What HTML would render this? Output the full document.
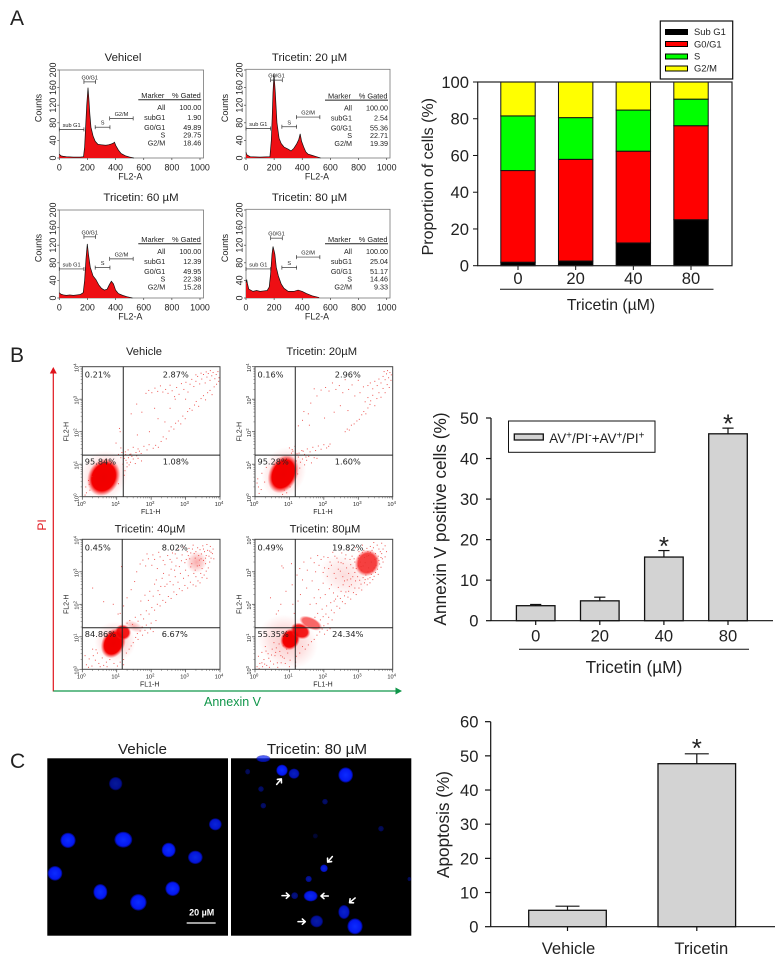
<!DOCTYPE html>
<html lang="en">
<head>
<meta charset="utf-8">
<title>Tricetin cell cycle and apoptosis figure</title>
<style>
html,body{margin:0;padding:0;background:#fff;}
#figure{display:block;filter:blur(0.3px);font-family:"Liberation Sans",Arial,sans-serif;fill:#222;}
</style>
</head>
<body>
<svg id="figure" xmlns="http://www.w3.org/2000/svg" width="784" height="963" viewBox="0 0 784 963">
<defs>
<radialGradient id="blobCore"><stop offset="0" stop-color="#f00000"/><stop offset="0.72" stop-color="#f40000"/><stop offset="1" stop-color="#ff3030" stop-opacity="0"/></radialGradient>
<radialGradient id="blobHalo"><stop offset="0" stop-color="#f02020" stop-opacity="0.85"/><stop offset="0.6" stop-color="#f03030" stop-opacity="0.45"/><stop offset="1" stop-color="#ff4040" stop-opacity="0"/></radialGradient>
<radialGradient id="cellGlow"><stop offset="0" stop-color="#0c2cff"/><stop offset="0.76" stop-color="#0418f0"/><stop offset="0.92" stop-color="#0208a0" stop-opacity="0.75"/><stop offset="1" stop-color="#000040" stop-opacity="0"/></radialGradient>
</defs>
<rect x="0" y="0" width="784" height="963" fill="#fff"/>
<text x="10" y="25" font-size="21">A</text>
<text x="10" y="362" font-size="21">B</text>
<text x="10" y="768" font-size="21">C</text>

<g id="histograms"></g>
<g id="stacked">
  <text transform="translate(433,176.7) rotate(-90)" text-anchor="middle" font-size="16">Proportion of cells (%)</text>
  <text x="611" y="310" text-anchor="middle" font-size="15.8">Tricetin (µM)</text>
  <line x1="500" x2="713.5" y1="289.3" y2="289.3" stroke="#111" stroke-width="1"/>
  <g>
    <rect x="660.3" y="21" width="72.4" height="58" fill="#fff" stroke="#111" stroke-width="1.2"/>
    <rect x="665.5" y="29.5" width="22" height="5" fill="#000" stroke="#000"/>
    <text x="694" y="35" font-size="9.4">Sub G1</text>
    <rect x="665.5" y="41.5" width="22" height="5" fill="#f00" stroke="#000"/>
    <text x="694" y="47.4" font-size="9.4">G0/G1</text>
    <rect x="665.5" y="54" width="22" height="5" fill="#0f0" stroke="#000"/>
    <text x="694" y="59.5" font-size="9.4">S</text>
    <rect x="665.5" y="66" width="22" height="5" fill="#ff0" stroke="#000"/>
    <text x="694" y="71.5" font-size="9.4">G2/M</text>
  </g>
</g>
<g id="dotplots">
  <line x1="53.3" x2="53.3" y1="691.5" y2="372" stroke="#e0141c" stroke-width="1.2"/>
  <polygon points="53.3,367 49.8,373.5 56.8,373.5" fill="#e0141c"/>
  <line x1="53.3" x2="398" y1="691" y2="691" stroke="#10964a" stroke-width="1.2"/>
  <polygon points="402,691 395.5,687.5 395.5,694.5" fill="#10964a"/>
  <text transform="translate(46,525) rotate(-90)" text-anchor="middle" font-size="12" fill="#e0141c">PI</text>
  <text x="232.5" y="706" text-anchor="middle" font-size="12.5" fill="#10964a">Annexin V</text>
</g>
<g id="annexinChart">
  <text transform="translate(445.8,519) rotate(-90)" text-anchor="middle" font-size="17.3">Annexin V positive cells (%)</text>
  <line x1="519" x2="749" y1="649.3" y2="649.3" stroke="#111" stroke-width="1"/>
  <text x="634" y="673" text-anchor="middle" font-size="17.3">Tricetin (µM)</text>
  <g>
    <rect x="508.5" y="421" width="146.5" height="31.3" fill="#fff" stroke="#111" stroke-width="1"/>
    <rect x="514.3" y="434" width="29" height="6" fill="#d3d3d3" stroke="#111" stroke-width="1.3"/>
    <text x="549.3" y="443" font-size="13.4">AV<tspan dy="-4.5" font-size="10">+</tspan><tspan dy="4.5">/PI</tspan><tspan dy="-4.5" font-size="10">-</tspan><tspan dy="4.5">+AV</tspan><tspan dy="-4.5" font-size="10">+</tspan><tspan dy="4.5">/PI</tspan><tspan dy="-4.5" font-size="10">+</tspan></text>
  </g>
</g>
<g>
  <text x="142.5" y="754" text-anchor="middle" font-size="15.2">Vehicle</text>
  <text x="317" y="754" text-anchor="middle" font-size="15.2">Tricetin: 80 µM</text>
  <rect x="47.3" y="758.3" width="180.7" height="177.4" fill="#000"/>
  <rect x="231" y="758.3" width="180.3" height="177.4" fill="#000"/>
  <g transform="translate(0,730) scale(0.33333)">
    <g fill="url(#cellGlow)">
      <ellipse cx="347" cy="161" rx="21" ry="21" opacity="0.6"/>
      <ellipse cx="204" cy="331" rx="24" ry="24"/>
      <ellipse cx="370" cy="329" rx="28" ry="25"/>
      <ellipse cx="506" cy="360" rx="22" ry="23"/>
      <ellipse cx="586" cy="382" rx="23" ry="21" opacity="0.9"/>
      <ellipse cx="646" cy="283" rx="20" ry="19" opacity="0.85"/>
      <ellipse cx="165" cy="430" rx="23" ry="23"/>
      <ellipse cx="301" cy="486" rx="22" ry="25"/>
      <ellipse cx="415" cy="517" rx="26" ry="26"/>
      <ellipse cx="518" cy="476" rx="23" ry="23"/>
    </g>
    <g fill="url(#cellGlow)">
      <ellipse cx="846" cy="121" rx="18" ry="18"/>
      <ellipse cx="882" cy="131" rx="17" ry="16" opacity="0.75"/>
      <ellipse cx="1037" cy="135" rx="23" ry="24"/>
      <ellipse cx="790" cy="86" rx="22" ry="11" opacity="0.7"/>
      <ellipse cx="743" cy="125" rx="8" ry="9" opacity="0.35"/>
      <ellipse cx="783" cy="177" rx="9" ry="9" opacity="0.4"/>
      <ellipse cx="790" cy="227" rx="9" ry="9" opacity="0.4"/>
      <ellipse cx="975" cy="215" rx="9" ry="9" opacity="0.4"/>
      <ellipse cx="1143" cy="296" rx="9" ry="9" opacity="0.35"/>
      <ellipse cx="946" cy="318" rx="8" ry="8" opacity="0.2"/>
      <ellipse cx="972" cy="415" rx="12" ry="12" opacity="0.85"/>
      <ellipse cx="926" cy="447" rx="10" ry="10" opacity="0.6"/>
      <ellipse cx="884" cy="497" rx="11" ry="11" opacity="0.5"/>
      <ellipse cx="932" cy="498" rx="22" ry="17" opacity="0.95"/>
      <ellipse cx="1032" cy="546" rx="18" ry="22" opacity="0.8"/>
      <ellipse cx="1065" cy="589" rx="24" ry="25"/>
      <ellipse cx="950" cy="574" rx="20" ry="19" opacity="0.65"/>
      <ellipse cx="1228" cy="447" rx="6" ry="7" opacity="0.35"/>
    </g>
    <g fill="none" stroke="#fff" stroke-width="4.6" stroke-linecap="round" stroke-linejoin="round">
      <path transform="translate(837,155) rotate(-50)" d="M-11,0H10M2,-8L11,0L2,8"/>
      <path transform="translate(990,388) rotate(130)" d="M-11,0H10M2,-8L11,0L2,8"/>
      <path transform="translate(857,497)" d="M-11,0H10M2,-8L11,0L2,8"/>
      <path transform="translate(974,498) rotate(180)" d="M-11,0H10M2,-8L11,0L2,8"/>
      <path transform="translate(1057,511) rotate(140)" d="M-11,0H10M2,-8L11,0L2,8"/>
      <path transform="translate(905,575)" d="M-11,0H10M2,-8L11,0L2,8"/>
    </g>
    <line x1="560" x2="647" y1="579" y2="579" stroke="#fff" stroke-width="4"/>
    <text x="605" y="556" text-anchor="middle" font-size="27" font-weight="bold" fill="#fff">20 µM</text>
  </g>
</g>
<g id="apoptosisChart">
  <text transform="translate(449,824.5) rotate(-90)" text-anchor="middle" font-size="17.2">Apoptosis (%)</text>
</g>
</svg>
<script>
/* ---------- Panel A stacked chart data ---------- */
const stackDoses = ['0', '20', '40', '80'];
const stackTicks = [0, 20, 40, 60, 80, 100];
const subG1Values = [1.90, 2.54, 12.39, 25.04];
const g0g1Values = [49.89, 55.36, 49.95, 51.17];
const sPhaseValues = [29.75, 22.71, 22.38, 14.46];
const g2mValues = [18.46, 19.39, 15.28, 9.33];

/* ---------- Panel A histogram data ---------- */
const histTitles = ['Vehicel', 'Tricetin: 20 µM', 'Tricetin: 60 µM', 'Tricetin: 80 µM'];
const histXTicks = [0, 200, 400, 600, 800, 1000];
const histYTicks = [0, 40, 80, 120, 160, 200];
const hist1Channels = [0, 5, 12, 25, 50, 100, 150, 172, 180, 187, 195, 204, 210, 217, 225, 240, 255, 275, 300, 330, 350, 370, 385, 392, 402, 420, 440, 470, 500, 530];
const hist1Counts = [9, 7, 5, 4, 3, 2, 2, 3, 25, 70, 120, 160, 135, 100, 70, 50, 38, 31, 30, 29, 30, 32, 34, 36, 28, 18, 10, 5, 2, 0];
const hist2Channels = [0, 5, 12, 30, 100, 170, 180, 186, 192, 199, 208, 220, 235, 250, 270, 300, 320, 340, 360, 375, 385, 395, 410, 425, 440, 470, 500, 530];
const hist2Counts = [13, 8, 6, 3, 2, 3, 40, 90, 150, 190, 150, 80, 45, 33, 25, 20, 16, 22, 32, 42, 55, 38, 25, 14, 9, 6, 3, 0];
const hist3Channels = [0, 10, 30, 50, 75, 100, 125, 150, 170, 180, 190, 199, 207, 220, 240, 260, 280, 300, 320, 340, 355, 370, 385, 400, 420, 450, 480, 520];
const hist3Counts = [12, 9, 7, 6, 7, 6, 7, 8, 12, 40, 90, 123, 100, 70, 50, 42, 30, 22, 18, 20, 30, 38, 32, 18, 10, 6, 3, 0];
const hist4Channels = [0, 5, 10, 20, 50, 75, 100, 125, 150, 165, 175, 185, 192, 205, 215, 230, 250, 270, 300, 340, 370, 400, 430, 470, 520];
const hist4Counts = [35, 42, 33, 20, 15, 17, 15, 16, 17, 25, 55, 100, 117, 100, 70, 50, 32, 22, 15, 15, 18, 15, 10, 5, 1];
const histChannels = [hist1Channels, hist2Channels, hist3Channels, hist4Channels];
const histCounts = [hist1Counts, hist2Counts, hist3Counts, hist4Counts];
const gateNames = ['sub G1', 'G0/G1', 'S', 'G2/M'];
const gateStarts = [0, 175, 255, 358];
const gateEnds = [175, 258, 360, 525];
const gateHeightsByHist = [[65, 173, 70, 90], [67, 177, 71, 93], [66, 139, 69, 89], [66, 136, 69, 93]];
const tableLabels = ['All', 'subG1', 'G0/G1', 'S', 'G2/M'];
const gatedPercents1 = ['100.00', '1.90', '49.89', '29.75', '18.46'];
const gatedPercents2 = ['100.00', '2.54', '55.36', '22.71', '19.39'];
const gatedPercents3 = ['100.00', '12.39', '49.95', '22.38', '15.28'];
const gatedPercents4 = ['100.00', '25.04', '51.17', '14.46', '9.33'];
const gatedPercents = [gatedPercents1, gatedPercents2, gatedPercents3, gatedPercents4];

/* ---------- Panel B dot plot data (log10 FL1-H, log10 FL2-H) ---------- */
const dotTitles = ['Vehicle', 'Tricetin: 20µM', 'Tricetin: 40µM', 'Tricetin: 80µM'];
const logTicks = [0, 1, 2, 3, 4];
const quadrantGates = [[1.19, 1.28], [1.17, 1.28], [1.16, 1.28], [1.17, 1.28]];
const quadrantPercents = [['0.21%', '2.87%', '95.84%', '1.08%'], ['0.16%', '2.96%', '95.28%', '1.60%'], ['0.45%', '8.02%', '84.86%', '6.67%'], ['0.49%', '19.82%', '55.35%', '24.34%']];
/* dense populations: log x, log y, spread x, spread y, density */
const denseVehicle = [[0.64, 0.66, 0.68, 0.78, 0.3], [0.62, 0.6, 0.46, 0.6, 1]];
const denseT20 = [[0.84, 0.74, 0.62, 0.82, 0.3], [0.82, 0.7, 0.42, 0.62, 1]];
const denseT40 = [[0.95, 0.85, 0.6, 0.62, 0.3], [0.9, 0.8, 0.34, 0.48, 1], [1.18, 1.14, 0.24, 0.24, 0.9], [1.5, 1.32, 0.3, 0.16, 0.4], [3.32, 3.3, 0.3, 0.34, 0.45]];
const denseT80 = [[0.95, 0.85, 0.9, 0.8, 0.3], [1.02, 0.92, 0.28, 0.34, 1], [1.32, 1.18, 0.3, 0.24, 0.9], [1.62, 1.42, 0.36, 0.18, 0.6], [3.26, 3.27, 0.36, 0.42, 0.75], [2.6, 2.9, 0.75, 0.6, 0.18]];
const dotsVehicle = [[1.25,1.38],[1.33,1.44],[1.41,1.31],[1.48,1.52],[1.56,1.36],[1.62,1.47],[1.71,1.33],[1.79,1.55],[1.88,1.44],[1.94,1.6],[2.06,1.49],[2.13,1.58],[2.21,1.52],[2.29,1.7],[2.35,1.84],[2.44,1.78],[2.52,2.02],[2.58,2.15],[2.66,2.08],[2.71,2.26],[2.79,2.33],[2.86,2.24],[2.92,2.48],[2.99,2.4],[3.06,2.62],[3.12,2.71],[3.19,2.66],[3.26,2.82],[3.31,2.93],[3.38,2.78],[3.45,3.02],[3.52,3.11],[3.58,2.98],[3.64,3.2],[3.71,3.27],[3.77,3.14],[3.83,3.38],[3.9,3.46],[3.96,3.55],[1.85,3.18],[1.93,3.27],[2.02,3.2],[2.11,3.34],[2.19,3.24],[2.27,3.41],[2.34,3.22],[2.42,3.3],[2.49,3.18],[2.55,3.43],[2.61,3.26],[2.68,3.08],[2.74,3.36],[2.81,3.15],[2.88,3.48],[2.95,3.3],[3.01,3.52],[3.07,3.22],[3.13,3.46],[3.18,3.61],[3.24,3.39],[3.3,3.55],[3.35,3.7],[3.41,3.47],[3.47,3.62],[3.52,3.76],[3.57,3.5],[3.62,3.68],[3.66,3.79],[3.71,3.58],[3.76,3.72],[3.8,3.82],[3.85,3.63],[3.89,3.76],[3.94,3.85],[3.97,3.66],[3.45,3.8],[3.6,3.84],[3.72,3.88],[3.3,3.75],[1.42,2.55],[1.58,2.85],[1.73,2.6],[2.1,2.72],[2.2,2.4],[2.4,2.3],[2.55,2.72],[1.1,2.0],[1.08,2.1],[0.98,1.65],[1.12,1.5],[2.7,3.0],[3.0,3.0],[1.6,1.9],[1.95,2.0],[1.2,1.25],[1.27,1.12],[1.34,1.2],[1.4,1.06],[1.3,0.92],[1.48,1.16],[1.24,0.8],[1.54,1.02],[1.18,1.0],[1.22,1.18],[1.12,1.2],[1.05,1.3],[1.15,1.36],[1.38,1.3],[1.62,1.18],[1.72,1.1],[1.05,0.4],[0.1,0.3],[0.08,0.05],[0.18,0.5],[0.22,0.2],[0.12,0.12],[0.28,0.62],[0.2,0.38],[1.3,1.04],[1.36,0.98],[1.44,1.24],[1.26,1.3],[1.58,1.26],[1.66,1.4],[1.22,0.66]];
const dotsT20 = [[1.28,1.34],[1.36,1.42],[1.44,1.3],[1.52,1.47],[1.6,1.38],[1.68,1.52],[1.76,1.42],[1.84,1.56],[1.92,1.46],[2.0,1.6],[2.08,1.5],[2.14,1.55],[2.18,1.62],[2.62,2.0],[2.68,2.08],[2.74,2.05],[2.8,2.2],[2.88,2.24],[2.96,2.33],[3.03,2.38],[3.1,2.52],[3.16,2.62],[3.22,2.55],[3.28,2.73],[3.34,2.84],[3.2,2.92],[3.28,3.05],[3.36,2.95],[3.42,3.12],[3.48,2.8],[3.54,3.02],[3.6,3.2],[3.66,3.06],[3.72,3.33],[3.78,3.2],[3.84,3.45],[3.9,3.36],[3.95,3.58],[3.28,3.42],[3.35,3.5],[3.42,3.32],[3.48,3.55],[3.55,3.42],[3.6,3.62],[3.66,3.5],[3.72,3.7],[3.78,3.6],[3.82,3.78],[3.88,3.66],[3.92,3.82],[3.75,3.85],[3.85,3.88],[3.96,3.75],[3.15,3.38],[3.05,3.2],[3.0,3.58],[2.9,3.1],[2.82,3.44],[2.72,3.3],[2.62,3.6],[2.55,3.2],[2.45,3.42],[2.35,3.3],[2.25,3.5],[2.15,3.25],[2.05,3.36],[1.92,3.28],[1.8,3.1],[1.72,3.32],[1.62,2.88],[1.55,2.55],[1.42,2.62],[1.38,2.35],[1.26,2.18],[1.58,2.2],[2.02,2.42],[2.3,2.6],[2.48,2.8],[2.7,2.65],[1.2,1.1],[1.26,1.22],[1.32,1.06],[1.38,1.16],[1.44,0.98],[1.3,0.88],[1.24,0.7],[1.5,1.12],[1.56,1.24],[1.64,1.04],[1.72,1.2],[1.8,1.18],[1.22,1.32],[1.08,1.45],[1.0,1.5],[1.16,1.55],[1.1,1.4],[1.02,0.3],[0.92,0.12],[0.85,0.2],[0.8,0.07],[0.1,0.3],[0.08,0.55],[0.12,0.1],[0.18,0.22],[0.2,0.72],[0.28,0.45],[0.33,0.9],[0.06,0.42],[1.06,1.34],[1.4,1.4],[1.48,1.22]];
const dotsT40 = [[1.3,1.42],[1.38,1.5],[1.46,1.38],[1.54,1.6],[1.62,1.48],[1.7,1.68],[1.78,1.55],[1.86,1.8],[1.94,1.7],[2.02,1.9],[2.1,1.82],[2.18,2.0],[2.26,1.95],[2.34,2.12],[2.42,2.06],[2.5,2.24],[2.58,2.18],[2.66,2.38],[2.74,2.3],[2.82,2.48],[2.9,2.42],[2.98,2.58],[3.06,2.5],[3.14,2.68],[3.22,2.6],[3.3,2.56],[3.36,2.72],[3.42,2.66],[3.48,2.82],[3.54,2.9],[3.6,3.02],[3.66,3.12],[3.7,3.3],[3.74,3.42],[3.78,3.56],[3.8,3.7],[3.72,3.78],[3.62,3.84],[3.5,3.8],[3.42,3.68],[3.35,3.74],[3.25,3.56],[3.2,3.7],[3.12,3.4],[3.05,3.62],[2.98,3.28],[2.9,3.52],[2.82,3.16],[2.75,3.42],[2.68,3.05],[2.6,3.3],[2.52,2.9],[2.48,3.5],[2.4,3.22],[2.32,2.8],[2.26,3.46],[2.18,3.1],[2.1,3.38],[2.02,3.2],[1.92,3.4],[1.84,3.18],[1.76,3.36],[1.68,3.24],[1.58,3.0],[1.52,2.7],[1.42,2.45],[1.3,2.2],[1.2,1.95],[1.1,1.72],[1.14,3.16],[0.3,2.5],[0.62,2.08],[0.9,2.0],[1.04,1.7],[1.96,2.4],[2.1,2.62],[2.25,2.3],[2.4,2.55],[2.55,2.7],[2.7,2.85],[2.85,2.95],[3.0,3.05],[3.15,3.15],[3.28,3.05],[3.4,3.2],[3.52,3.35],[2.62,3.58],[2.8,3.68],[2.95,3.76],[3.08,3.5],[1.6,1.1],[1.68,1.18],[1.75,1.05],[1.82,1.2],[1.9,1.12],[1.98,1.24],[2.06,1.16],[1.55,0.98],[1.62,0.92],[1.48,0.82],[1.42,0.72],[1.36,0.62],[1.28,0.5],[0.92,0.18],[0.8,0.3],[0.7,0.22],[0.58,0.35],[0.48,0.18],[0.38,0.28],[0.28,0.1],[0.2,0.32],[0.12,0.14],[0.08,0.42],[0.18,0.06],[0.32,0.42],[0.44,0.5],[0.52,0.08],[0.62,0.12],[0.72,0.08],[1.02,0.1],[1.1,0.22],[1.2,0.3],[1.2,0.14],[0.4,0.6],[0.3,0.62],[3.82,3.4],[3.7,3.64],[3.6,3.5],[3.55,3.62],[3.45,3.4],[3.38,3.5],[3.28,3.42],[3.15,3.58],[3.58,3.25],[3.48,3.1],[3.62,2.8],[3.44,2.95],[3.3,2.85],[2.15,2.75],[2.28,2.55],[2.36,2.95],[2.46,2.62],[2.58,3.08],[2.64,2.6],[2.72,3.18],[2.78,2.68],[2.88,3.34],[2.94,2.8],[3.02,3.38],[3.08,2.88],[3.18,3.25],[3.24,2.95],[3.34,3.18],[3.4,3.36],[3.46,3.55],[3.52,3.7],[3.58,3.42],[3.64,3.66],[3.68,3.48],[3.74,3.6],[3.3,3.62],[3.22,3.82],[3.1,3.72],[2.7,3.55],[2.55,3.38],[2.35,3.35],[2.22,3.6],[2.05,3.52],[1.88,3.55],[1.7,2.1],[1.82,2.28],[1.92,2.12],[2.06,2.25],[2.2,2.42],[1.74,1.3],[1.86,1.36],[2.0,1.42],[2.14,1.5]];
const dotsT80 = [[1.9,1.52],[1.98,1.62],[2.06,1.7],[2.14,1.6],[2.22,1.82],[2.3,1.74],[2.38,1.94],[2.46,1.88],[2.54,2.08],[2.62,2.02],[2.7,2.22],[2.78,2.16],[2.86,2.36],[2.94,2.3],[3.02,2.5],[3.1,2.44],[3.18,2.66],[3.26,2.6],[3.34,2.82],[3.42,2.76],[3.5,2.98],[3.58,2.92],[3.66,3.14],[3.72,3.3],[3.78,3.46],[3.82,3.62],[3.78,3.8],[3.68,3.88],[3.55,3.82],[3.45,3.9],[3.35,3.78],[3.25,3.72],[3.12,3.82],[3.02,3.62],[2.92,3.74],[2.82,3.48],[2.72,3.66],[2.62,3.4],[2.52,3.58],[2.42,3.3],[2.32,3.48],[2.22,3.2],[2.12,3.44],[2.02,3.12],[1.92,3.38],[1.82,3.5],[1.72,3.28],[1.62,3.42],[1.52,3.05],[1.42,3.3],[1.3,3.1],[1.22,2.9],[1.38,2.75],[1.5,2.5],[1.32,2.3],[1.25,2.1],[0.82,3.12],[0.78,3.18],[1.06,3.25],[0.75,2.0],[0.68,1.8],[0.62,1.7],[0.45,2.2],[0.9,2.4],[1.08,2.6],[1.1,2.0],[1.14,1.72],[1.6,2.0],[1.72,2.2],[1.85,2.45],[1.98,2.65],[2.1,2.86],[2.22,2.6],[2.35,2.8],[2.48,3.02],[2.6,2.72],[2.72,2.95],[2.85,3.12],[2.98,2.85],[3.1,3.05],[3.22,2.9],[3.3,3.12],[3.42,3.02],[3.52,3.2],[3.6,3.35],[3.68,3.56],[3.72,3.7],[3.6,3.7],[3.5,3.56],[3.4,3.66],[3.3,3.5],[3.18,3.44],[3.06,3.3],[2.94,3.1],[2.84,2.85],[2.74,2.55],[2.64,2.38],[2.5,2.4],[2.4,2.25],[2.3,2.1],[2.2,2.05],[2.08,1.95],[1.95,1.85],[1.82,1.72],[1.74,1.6],[1.8,1.05],[1.88,1.15],[1.95,1.24],[2.02,1.08],[2.1,1.2],[2.18,1.25],[1.72,0.92],[1.64,0.85],[1.55,0.75],[1.46,0.62],[1.38,0.7],[1.3,0.5],[1.2,0.4],[1.18,0.22],[1.18,0.1],[1.02,0.28],[0.95,0.5],[0.88,0.18],[0.8,0.38],[0.72,0.55],[0.65,0.2],[0.58,0.42],[0.5,0.62],[0.45,0.25],[0.38,0.48],[0.3,0.7],[0.26,0.3],[0.2,0.52],[0.14,0.18],[0.1,0.4],[0.06,0.08],[0.12,0.02],[0.22,0.08],[0.34,0.12],[0.42,0.06],[0.54,0.16],[0.66,0.06],[0.76,0.2],[0.85,0.34],[0.92,0.62],[0.82,0.72],[0.7,0.78],[0.62,0.66],[0.55,0.82],[0.48,0.44],[0.4,0.34],[0.32,0.56],[1.0,0.08],[0.6,0.52],[0.75,0.42],[0.2,0.2],[0.28,0.16],[3.0,3.42],[2.9,3.3],[2.78,3.22],[2.66,3.12],[2.56,3.25],[3.12,3.6],[3.25,3.48],[3.38,3.3],[3.48,3.38],[3.58,3.48],[3.64,3.62],[3.44,3.74],[3.35,3.6],[3.2,3.28],[3.08,3.16],[2.9,2.98],[2.78,2.78],[2.55,2.85],[2.42,3.08],[2.3,2.95],[2.18,3.3],[1.98,2.98],[2.04,2.3],[2.16,2.48],[2.28,2.35],[2.42,2.52],[2.56,2.6],[2.68,2.75],[2.8,2.6],[2.92,2.72],[3.04,2.74],[3.14,2.82],[3.28,2.78],[3.38,2.92],[3.46,3.12],[3.56,3.08],[3.62,3.24],[3.28,3.0],[3.14,3.18],[3.0,3.18],[2.88,3.4],[2.76,3.38],[2.64,3.52],[2.5,3.28],[2.38,3.42],[2.26,3.6],[2.14,3.1],[2.0,3.46],[1.86,3.2],[1.76,3.0],[1.66,2.72],[1.9,2.2],[1.78,2.02],[2.34,2.16],[2.48,2.18],[2.6,2.26],[2.72,2.4],[2.9,2.5],[3.08,2.62],[3.2,2.76],[3.34,2.66],[3.46,2.86],[3.54,3.42],[3.66,3.44],[3.7,3.4],[3.16,3.66],[3.04,3.5],[3.28,3.62],[1.86,1.3],[2.0,1.34],[2.12,1.4],[2.24,1.52]];
const denseSets = [denseVehicle, denseT20, denseT40, denseT80];
const dotSets = [dotsVehicle, dotsT20, dotsT40, dotsT80];

/* ---------- Panel B bar chart data ---------- */
const annexinDoses = ['0', '20', '40', '80'];
const annexinMeans = [3.7, 4.9, 15.7, 46.1];
const annexinErrors = [0.3, 0.9, 1.6, 1.4];
const annexinStars = [false, false, true, true];
const annexinTicks = [0, 10, 20, 30, 40, 50];

/* ---------- Panel C bar chart data ---------- */
const apoptosisGroups = ['Vehicle', 'Tricetin'];
const apoptosisMeans = [4.8, 47.7];
const apoptosisErrors = [1.2, 2.9];
const apoptosisStars = [false, true];
const apoptosisTicks = [0, 10, 20, 30, 40, 50, 60];

const SVGNS = 'http://www.w3.org/2000/svg';
function make(tag, attrs, parent) {
  const el = document.createElementNS(SVGNS, tag);
  for (const k in attrs) el.setAttribute(k, attrs[k]);
  parent.appendChild(el);
  return el;
}
function addLine(parent, name, x1, y1, x2, y2, color, width) {
  const el = make('line', {x1: x1, y1: y1, x2: x2, y2: y2, stroke: color, 'stroke-width': width}, parent);
  
  
  return el;
}
function addText(parent, name, str, x, y, size, anchor, rotate, fill) {
  const attrs = {'font-size': size, 'text-anchor': anchor || 'middle'};
  if (rotate) { attrs.transform = 'translate(' + x + ',' + y + ') rotate(-90)'; }
  else { attrs.x = x; attrs.y = y; }
  if (fill) attrs.fill = fill;
  const el = make('text', attrs, parent);
  el.textContent = str;
  
  
  return el;
}
function addGroup(parent, name) {
  const el = make('g', {}, parent);
  
  
  return el;
}

/* ---------- Histograms ---------- */
const histFrames = [
  {left: 59.3, bottom: 158, top: 70, right: 203.5, titleX: 123, tableShift: 0},
  {left: 246, bottom: 158, top: 69.3, right: 390, titleX: 309.5, tableShift: 0.3},
  {left: 59.3, bottom: 298, top: 210, right: 203.5, titleX: 141, tableShift: 4},
  {left: 246, bottom: 298, top: 209.3, right: 390, titleX: 309.5, tableShift: 4}
];
const histHost = document.getElementById('histograms');
histFrames.forEach(function (f, p) {
  const g = addGroup(histHost, 'histogram-' + (p + 1));
  const xS = function (c) { return f.left + c * 0.1407; };
  const yS = function (v) { return f.bottom - v * 0.44; };
  addText(g, 'histogram-title', histTitles[p], f.titleX, f.bottom - 97, 11.4);
  const frame = make('rect', {x: f.left, y: f.top, width: f.right - f.left, height: f.bottom - f.top, fill: 'none', stroke: '#777', 'stroke-width': 0.8}, g);
  
  
  const ch = histChannels[p], ct = histCounts[p];
  let d = 'M' + xS(ch[0]) + ',' + yS(0);
  let top = '';
  for (let i = 0; i < ch.length; i++) {
    d += 'L' + xS(ch[i]) + ',' + yS(ct[i]);
    top += (i ? 'L' : 'M') + xS(ch[i]) + ',' + yS(ct[i]);
  }
  d += 'L' + xS(ch[ch.length - 1]) + ',' + yS(0) + 'Z';
  const area = make('path', {d: d, fill: '#ee0f14'}, g);
  
  
  const outline = make('path', {d: top, fill: 'none', stroke: '#111', 'stroke-width': 0.7}, g);
  
  
  histXTicks.forEach(function (t) {
    addLine(g, 'x-tick', xS(t), f.bottom, xS(t), f.bottom + 2, '#444', 0.7);
    addText(g, 'x-tick-label', String(t), xS(t), f.bottom + 12.6, 8.9);
  });
  histYTicks.forEach(function (t) {
    addLine(g, 'y-tick', f.left - 2, yS(t), f.left, yS(t), '#444', 0.7);
    addText(g, 'y-tick-label', String(t), f.left - 3.3, yS(t), 8.9, 'middle', true);
  });
  addText(g, 'x-axis-title', 'FL2-A', f.left + 71, f.bottom + 21.3, 8.9);
  addText(g, 'y-axis-title', 'Counts', f.left - 18, f.bottom - 50, 8.9, 'middle', true);
  gateNames.forEach(function (name, k) {
    const gy = yS(gateHeightsByHist[p][k]);
    const gx1 = xS(gateStarts[k]), gx2 = xS(gateEnds[k]);
    addLine(g, 'gate-line', gx1, gy, gx2, gy, '#333', 0.7);
    addLine(g, 'gate-cap', gx1, gy - 2, gx1, gy + 2, '#333', 0.7);
    addLine(g, 'gate-cap', gx2, gy - 2, gx2, gy + 2, '#333', 0.7);
    addText(g, 'gate-label', name, (gx1 + gx2) / 2, gy - 2.5, 5.6);
  });
  const rowOffsets = [-48, -38, -28, -20.5, -12.3];
  const tableLeft = f.left + 79, s = f.tableShift;
  addText(g, 'table-header-marker', 'Marker', f.left + 105, f.bottom - 60 + s, 7.4, 'end');
  addText(g, 'table-header-gated', '% Gated', f.left + 141.5, f.bottom - 60 + s, 7.4, 'end');
  addLine(g, 'table-header-rule', tableLeft, f.bottom - 58.2 + s, f.left + 142, f.bottom - 58.2 + s, '#222', 1);
  tableLabels.forEach(function (lab, r) {
    addText(g, 'table-row-label', lab, f.left + 106, f.bottom + rowOffsets[r] + s, 7.2, 'end');
    addText(g, 'table-row-value', gatedPercents[p][r], f.left + 142, f.bottom + rowOffsets[r] + s, 7.2, 'end');
  });
});

/* ---------- Stacked chart ---------- */
const stackHost = document.getElementById('stacked');
const stackX = function (i) { return 518 + i * 57.67; };
const stackY = function (v) { return 265.7 - v * 1.837; };
const stackSeries = [subG1Values, g0g1Values, sPhaseValues, g2mValues];
const stackColors = ['#000000', '#ff0000', '#00ff00', '#ffff00'];
const stackNames = ['sub-g1', 'g0-g1', 's-phase', 'g2-m'];
stackDoses.forEach(function (dose, i) {
  let base = 0;
  stackSeries.forEach(function (vals, k) {
    const next = Math.min(100, base + vals[i]);
    const seg = make('rect', {x: stackX(i) - 17.2, y: stackY(next), width: 34.4, height: stackY(base) - stackY(next), fill: stackColors[k], stroke: '#111', 'stroke-width': 1}, stackHost);
    
    
    base = next;
  });
  addLine(stackHost, 'x-tick', stackX(i), 265.7, stackX(i), 270, '#111', 1);
  addText(stackHost, 'x-tick-label', dose, stackX(i), 284, 16.6);
});
const stackFrame = make('rect', {x: 477.7, y: 82, width: 254.3, height: 183.7, fill: 'none', stroke: '#222', 'stroke-width': 1.2}, stackHost);


stackTicks.forEach(function (t) {
  addLine(stackHost, 'y-tick', 473, stackY(t), 477.7, stackY(t), '#111', 1);
  addText(stackHost, 'y-tick-label', String(t), 469, stackY(t) + 6, 16.6, 'end');
});

/* ---------- Dot plots ---------- */
const dotFrames = [
  {left: 82.3, right: 220, top: 366.7, bottom: 496.7, titleX: 144, titleY: 355, fl1X: 150.7, fl1Y: 514, fl2X: 68.7},
  {left: 255, right: 392.7, top: 366.7, bottom: 496.7, titleX: 321.7, titleY: 355, fl1X: 323, fl1Y: 514, fl2X: 241.5},
  {left: 82.3, right: 220, top: 539.3, bottom: 669.3, titleX: 150, titleY: 532.7, fl1X: 149.7, fl1Y: 686.7, fl2X: 68.7},
  {left: 255, right: 392.7, top: 539.3, bottom: 669.3, titleX: 325, titleY: 532.7, fl1X: 323, fl1Y: 686.7, fl2X: 241.5}
];
const dotHost = document.getElementById('dotplots');
dotFrames.forEach(function (f, p) {
  const g = addGroup(dotHost, 'dot-plot-' + (p + 1));
  const xS = function (l) { return f.left + l * (f.right - f.left) / 4; };
  const yS = function (l) { return f.bottom - l * (f.bottom - f.top) / 4; };
  addText(g, 'dot-plot-title', dotTitles[p], f.titleX, f.titleY, 11.2);
  denseSets[p].forEach(function (b) {
    const blob = make('ellipse', {
      cx: xS(b[0]), cy: yS(b[1]),
      rx: b[2] * (f.right - f.left) / 4, ry: b[3] * (f.bottom - f.top) / 4,
      fill: b[4] < 0.5 ? 'url(#blobHalo)' : 'url(#blobCore)', opacity: b[4],
      transform: 'rotate(25 ' + xS(b[0]) + ' ' + yS(b[1]) + ')'
    }, g);
    
    
  });
  dotSets[p].forEach(function (pt) {
    const dot = make('rect', {x: xS(pt[0]) - 0.5, y: yS(pt[1]) - 0.5, width: 1, height: 1, fill: '#e8302c', opacity: 0.8}, g);
    
    
  });
  const box = make('rect', {x: f.left, y: f.top, width: f.right - f.left, height: f.bottom - f.top, fill: 'none', stroke: '#444', 'stroke-width': 1}, g);
  
  
  const qx = xS(quadrantGates[p][0]), qy = yS(quadrantGates[p][1]);
  addLine(g, 'quadrant-vertical', qx, f.top, qx, f.bottom, '#222', 1);
  addLine(g, 'quadrant-horizontal', f.left, qy, f.right, qy, '#222', 1);
  logTicks.forEach(function (t, idx) {
    addLine(g, 'x-tick', xS(t), f.bottom, xS(t), f.bottom + 3, '#444', 0.7);
    addLine(g, 'y-tick', f.left - 3, yS(t), f.left, yS(t), '#444', 0.7);
    const xl = addText(g, 'x-tick-label', '10', xS(t) - 1, f.bottom + 9.3, 5.6);
    const xe = make('tspan', {dy: -2, 'font-size': 4.2}, xl);
    xe.textContent = String(t);
    const yl = addText(g, 'y-tick-label', '10', f.left - 4, yS(t) + 1, 5.6, 'middle', true);
    const ye = make('tspan', {dy: -2, 'font-size': 4.2}, yl);
    ye.textContent = String(t);
    if (idx < 4) {
      for (let m = 2; m < 10; m++) {
        addLine(g, 'minor-x-tick', xS(t + Math.log10(m)), f.bottom, xS(t + Math.log10(m)), f.bottom + 1.6, '#555', 0.5);
        addLine(g, 'minor-y-tick', f.left - 1.6, yS(t + Math.log10(m)), f.left, yS(t + Math.log10(m)), '#555', 0.5);
      }
    }
  });
  addText(g, 'fl1-axis-title', 'FL1-H', f.fl1X, f.fl1Y, 7);
  addText(g, 'fl2-axis-title', 'FL2-H', f.fl2X, (f.top + f.bottom) / 2 + 0, 7, 'middle', true);
  const pc = quadrantPercents[p];
  const labelFont = '"DejaVu Sans","Liberation Sans",sans-serif';
  const a = addText(g, 'quadrant-upper-left-percent', pc[0], f.left + 2.5, f.top + 11, 8.2, 'start');
  a.setAttribute('font-family', labelFont);
  const b = addText(g, 'quadrant-upper-right-percent', pc[1], qx + 52.5, f.top + 11, 8.2, 'middle');
  b.setAttribute('font-family', labelFont);
  const c = addText(g, 'quadrant-lower-left-percent', pc[2], f.left + 2.5, qy + 9.5, 8.2, 'start');
  c.setAttribute('font-family', labelFont);
  const e = addText(g, 'quadrant-lower-right-percent', pc[3], qx + 52.5, qy + 9.5, 8.2, 'middle');
  e.setAttribute('font-family', labelFont);
});

/* ---------- Annexin V bars ---------- */
const annexHost = document.getElementById('annexinChart');
const annexX = function (i) { return 535.7 + i * 64.1; };
const annexY = function (v) { return 620.7 - v * 4.054; };
addLine(annexHost, 'annexin-y-axis', 491, 418, 491, 620.7, '#111', 1.2);
addLine(annexHost, 'annexin-x-axis', 491, 620.7, 773, 620.7, '#111', 1.2);
annexinTicks.forEach(function (t) {
  addLine(annexHost, 'y-tick', 486, annexY(t), 491, annexY(t), '#111', 1.2);
  addText(annexHost, 'y-tick-label', String(t), 478.5, annexY(t) + 6, 16.6, 'end');
});
annexinDoses.forEach(function (dose, i) {
  const cx = annexX(i);
  const top = annexY(annexinMeans[i] + annexinErrors[i]);
  addLine(annexHost, 'error-bar-stem', cx, annexY(annexinMeans[i]), cx, top, '#111', 1.2);
  addLine(annexHost, 'error-bar-cap', cx - 5.6, top, cx + 5.6, top, '#111', 1.2);
  const bar = make('rect', {x: cx - 19.3, y: annexY(annexinMeans[i]), width: 38.6, height: annexY(0) - annexY(annexinMeans[i]), fill: '#d3d3d3', stroke: '#111', 'stroke-width': 1.3}, annexHost);
  
  
  addLine(annexHost, 'x-tick', cx, 620.7, cx, 625, '#111', 1.2);
  addText(annexHost, 'x-tick-label', dose, cx + (i === 0 ? 0 : 0), 641.7, 16.6);
  if (annexinStars[i]) addText(annexHost, 'significance-asterisk', '*', cx, top + 4.2, 26);
});

/* ---------- Apoptosis bars ---------- */
const apoHost = document.getElementById('apoptosisChart');
const apoX = function (i) { return 567.5 + i * 129.3; };
const apoY = function (v) { return 926.7 - v * 3.417; };
addLine(apoHost, 'apoptosis-y-axis', 490.7, 721.7, 490.7, 926.7, '#111', 1.2);
addLine(apoHost, 'apoptosis-x-axis', 490.7, 926.7, 775, 926.7, '#111', 1.2);
apoptosisTicks.forEach(function (t) {
  addLine(apoHost, 'y-tick', 485, apoY(t), 490.7, apoY(t), '#111', 1.2);
  addText(apoHost, 'y-tick-label', String(t), 478.5, apoY(t) + 6, 16.6, 'end');
});
apoptosisGroups.forEach(function (grp, i) {
  const cx = apoX(i);
  const top = apoY(apoptosisMeans[i] + apoptosisErrors[i]);
  addLine(apoHost, 'error-bar-stem', cx, apoY(apoptosisMeans[i]), cx, top, '#111', 1.2);
  addLine(apoHost, 'error-bar-cap', cx - 12, top, cx + 12, top, '#111', 1.2);
  const bar = make('rect', {x: cx - 38.8, y: apoY(apoptosisMeans[i]), width: 77.6, height: apoY(0) - apoY(apoptosisMeans[i]), fill: '#d3d3d3', stroke: '#111', 'stroke-width': 1.3}, apoHost);
  
  
  addLine(apoHost, 'x-tick', cx, 926.7, cx, 931, '#111', 1.2);
  addText(apoHost, 'x-tick-label', grp, cx + (i === 0 ? 1 : 4.5), 954, 16.6);
  if (apoptosisStars[i]) addText(apoHost, 'significance-asterisk', '*', cx, top + 3, 26);
});
</script>
</body>
</html>
